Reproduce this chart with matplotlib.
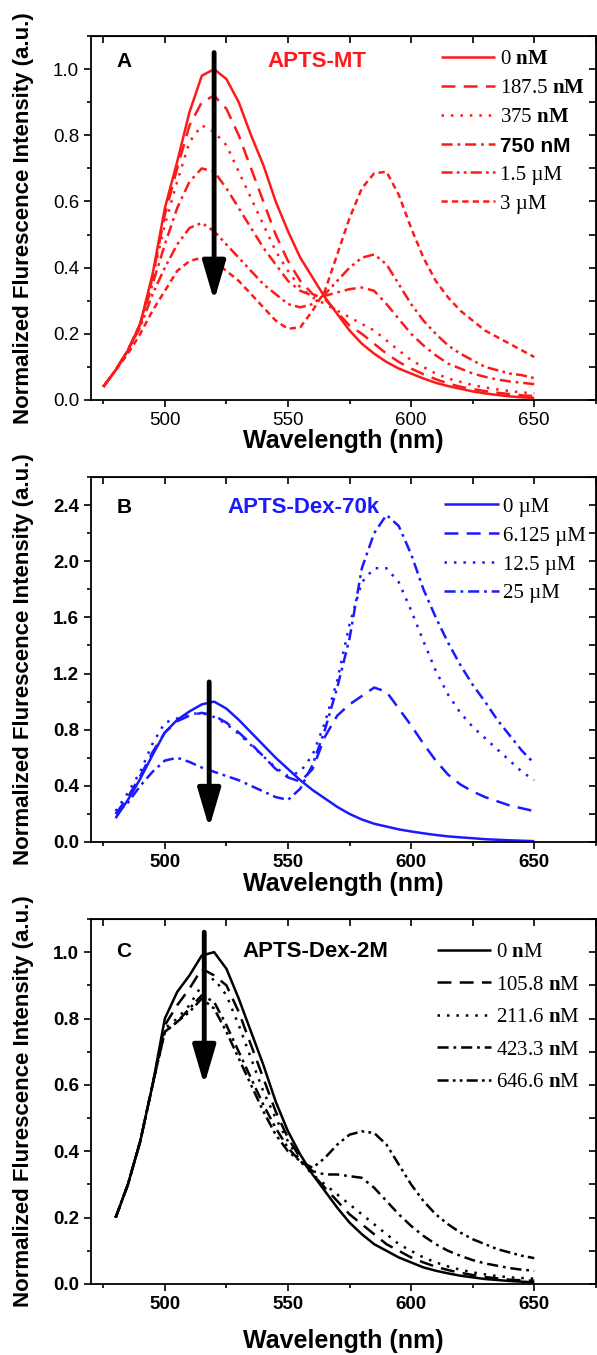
import matplotlib.pyplot as plt
from matplotlib.ticker import MultipleLocator

plt.rcParams['font.family'] = ['Liberation Sans', 'DejaVu Sans']
plt.rcParams['mathtext.fontset'] = 'custom'
plt.rcParams['mathtext.rm'] = 'Liberation Serif'
plt.rcParams['mathtext.bf'] = 'Liberation Serif:bold'
plt.rcParams['lines.scale_dashes'] = False

# ---- data ----
wl_a = [475, 480, 485, 490, 495, 500, 505, 510, 515, 520, 525, 530, 535, 540, 545, 550,
        555, 560, 565, 570, 575, 580, 585, 590, 595, 600, 605, 610, 615, 620, 625, 630,
        635, 640, 645, 650]
wl_bc = wl_a[1:]

mt_labels = ['0 $\\mathbf{nM}$', '187.5 $\\mathbf{nM}$', '375 $\\mathbf{nM}$', '750 nM',
             '1.5 \u00b5M', '3 \u00b5M']
mt_0 = [0.04, 0.09, 0.15, 0.23, 0.38, 0.58, 0.72, 0.87, 0.98, 1.0, 0.97, 0.9, 0.8, 0.71, 0.6, 0.51,
        0.43, 0.37, 0.31, 0.26, 0.21, 0.17, 0.14, 0.115, 0.095, 0.08, 0.065, 0.052, 0.042, 0.034,
        0.026, 0.02, 0.015, 0.011, 0.008, 0.006]
mt_187 = [0.04, 0.09, 0.15, 0.23, 0.37, 0.56, 0.7, 0.83, 0.9, 0.92, 0.88, 0.8, 0.7, 0.6, 0.5, 0.42,
          0.36, 0.32, 0.305, 0.265, 0.225, 0.2, 0.17, 0.14, 0.115, 0.095, 0.078, 0.063, 0.05, 0.04,
          0.033, 0.027, 0.022, 0.018, 0.014, 0.012]
mt_375 = [0.04, 0.09, 0.15, 0.23, 0.37, 0.53, 0.66, 0.78, 0.83, 0.81, 0.77, 0.69, 0.61, 0.53, 0.45,
          0.39, 0.34, 0.31, 0.29, 0.27, 0.25, 0.23, 0.21, 0.18, 0.15, 0.12, 0.1, 0.08, 0.065, 0.055,
          0.045, 0.038, 0.032, 0.027, 0.023, 0.02]
mt_750 = [0.04, 0.09, 0.15, 0.23, 0.35, 0.47, 0.58, 0.66, 0.7, 0.69, 0.64, 0.58, 0.52, 0.46, 0.41,
          0.36, 0.33, 0.315, 0.315, 0.325, 0.335, 0.34, 0.33, 0.29, 0.245, 0.2, 0.165, 0.135, 0.11,
          0.095, 0.08, 0.07, 0.062, 0.056, 0.052, 0.048]
mt_1500 = [0.04, 0.09, 0.15, 0.22, 0.32, 0.4, 0.47, 0.52, 0.535, 0.51, 0.47, 0.43, 0.39, 0.35, 0.32,
           0.29, 0.28, 0.29, 0.32, 0.36, 0.4, 0.43, 0.44, 0.41, 0.35, 0.29, 0.24, 0.2, 0.165, 0.14,
           0.12, 0.1, 0.09, 0.08, 0.075, 0.066]
mt_3000 = [0.04, 0.09, 0.14, 0.2, 0.27, 0.33, 0.39, 0.42, 0.43, 0.42, 0.39, 0.36, 0.32, 0.28, 0.24,
           0.215, 0.22, 0.27, 0.33, 0.44, 0.55, 0.64, 0.685, 0.69, 0.62, 0.52, 0.43, 0.36, 0.31, 0.27,
           0.24, 0.21, 0.19, 0.17, 0.15, 0.13]

d70_labels = ['0 \u00b5M', '6.125 \u00b5M', '12.5 \u00b5M', '25 \u00b5M']
d70_0 = [0.17, 0.3, 0.45, 0.62, 0.78, 0.87, 0.93, 0.98, 1.0, 0.95, 0.87, 0.78, 0.69, 0.6, 0.52,
         0.44, 0.37, 0.31, 0.25, 0.2, 0.16, 0.13, 0.11, 0.09, 0.075, 0.062, 0.05, 0.04, 0.033,
         0.027, 0.02, 0.016, 0.012, 0.009, 0.006]
d70_6 = [0.2, 0.32, 0.47, 0.64, 0.78, 0.86, 0.9, 0.92, 0.9, 0.85, 0.78, 0.7, 0.61, 0.52, 0.46,
         0.43, 0.52, 0.75, 0.9, 0.98, 1.04, 1.1, 1.07, 0.95, 0.83, 0.7, 0.58, 0.48, 0.41, 0.36,
         0.32, 0.29, 0.26, 0.24, 0.22]
d70_12 = [0.22, 0.35, 0.5, 0.7, 0.85, 0.88, 0.91, 0.92, 0.89, 0.84, 0.77, 0.69, 0.61, 0.53, 0.47,
          0.5, 0.62, 0.85, 1.15, 1.55, 1.85, 1.95, 1.95, 1.85, 1.65, 1.43, 1.22, 1.05, 0.92, 0.82,
          0.74, 0.66, 0.58, 0.5, 0.44]
d70_25 = [0.2, 0.28, 0.4, 0.5, 0.58, 0.6, 0.57, 0.53, 0.5, 0.47, 0.44, 0.4, 0.36, 0.32, 0.3,
          0.38, 0.55, 0.8, 1.1, 1.45, 1.95, 2.2, 2.33, 2.25, 2.05, 1.8, 1.6, 1.42, 1.26, 1.12,
          1.0, 0.87, 0.76, 0.65, 0.56]

d2m_labels = ['0 $\\mathbf{n}$M', '105.8 $\\mathbf{n}$M', '211.6 $\\mathbf{n}$M',
              '423.3 $\\mathbf{n}$M', '646.6 $\\mathbf{n}$M']
d2m_0 = [0.2, 0.3, 0.43, 0.6, 0.8, 0.88, 0.93, 0.99, 1.0, 0.95, 0.86, 0.76, 0.66, 0.55, 0.46,
         0.39, 0.33, 0.28, 0.23, 0.185, 0.15, 0.12, 0.1, 0.08, 0.065, 0.05, 0.04, 0.032, 0.025,
         0.02, 0.015, 0.012, 0.009, 0.007, 0.005]
d2m_105 = [0.2, 0.3, 0.43, 0.6, 0.78, 0.84, 0.89, 0.95, 0.93, 0.9, 0.82, 0.72, 0.62, 0.52, 0.44,
           0.38, 0.33, 0.29, 0.25, 0.21, 0.18, 0.15, 0.12, 0.1, 0.08, 0.065, 0.052, 0.042, 0.034,
           0.027, 0.021, 0.017, 0.013, 0.011, 0.01]
d2m_211 = [0.2, 0.3, 0.43, 0.6, 0.77, 0.8, 0.84, 0.9, 0.92, 0.87, 0.78, 0.68, 0.58, 0.5, 0.43,
           0.37, 0.33, 0.3, 0.27, 0.24, 0.21, 0.18, 0.15, 0.12, 0.1, 0.08, 0.065, 0.053, 0.043,
           0.035, 0.029, 0.024, 0.02, 0.018, 0.016]
d2m_423 = [0.2, 0.3, 0.43, 0.6, 0.76, 0.79, 0.83, 0.87, 0.85, 0.78, 0.7, 0.62, 0.54, 0.47, 0.41,
           0.37, 0.34, 0.33, 0.33, 0.325, 0.32, 0.29, 0.25, 0.21, 0.175, 0.145, 0.12, 0.1, 0.085,
           0.072, 0.062, 0.055, 0.048, 0.043, 0.04]
d2m_646 = [0.2, 0.3, 0.43, 0.6, 0.76, 0.79, 0.82, 0.86, 0.83, 0.76, 0.68, 0.6, 0.52, 0.45, 0.4,
           0.37, 0.35, 0.38, 0.42, 0.45, 0.46, 0.455, 0.42, 0.36, 0.3, 0.25, 0.21, 0.18, 0.155,
           0.135, 0.12, 0.105, 0.095, 0.085, 0.078]

# line styles (points)
SOLID = (0, ())
LONG = (0, (10, 6))
DOT = (0, (1.8, 5))
DASHDOT = (0, (8, 3.5, 2, 3.5))
DASHDOTDOT = (0, (8, 3, 2, 3, 2, 3))
SHORT = (0, (4.5, 3))

ylabel = 'Normalized Flurescence Intensity (a.u.)'
legend_font = {'family': 'Liberation Serif', 'size': 15}


def style_axes(ax, ymax, ymajor, yminor, bold_ticks, labelpad):
    ax.set_xlim(470, 675)
    ax.set_ylim(0, ymax)
    ax.xaxis.set_major_locator(MultipleLocator(50))
    ax.xaxis.set_minor_locator(MultipleLocator(25))
    ax.yaxis.set_major_locator(MultipleLocator(ymajor))
    ax.yaxis.set_minor_locator(MultipleLocator(yminor))
    ax.tick_params(which='both', direction='out', width=1.2, labelsize=13.5)
    ax.tick_params(which='major', length=5)
    ax.tick_params(which='minor', length=3)
    for lab in ax.get_xticklabels() + ax.get_yticklabels():
        lab.set_fontweight('bold' if bold_ticks else 'normal')
    for s in ax.spines.values():
        s.set_linewidth(1.3)
    top = ax.secondary_xaxis('top')
    top.xaxis.set_major_locator(MultipleLocator(25))
    top.tick_params(direction='in', length=5, width=1.2, labeltop=False)
    right = ax.secondary_yaxis('right')
    right.yaxis.set_major_locator(MultipleLocator(yminor))
    right.tick_params(direction='in', length=5, width=1.2, labelright=False)
    ax.set_xlabel('Wavelength (nm)', fontsize=18, fontweight='bold', labelpad=labelpad)
    ax.set_ylabel(ylabel, fontsize=16, fontweight='bold')
    ax.yaxis.set_label_coords(-0.113, 0.5)


def add_arrow(ax, x, y0, y1):
    ax.annotate('', xy=(x, y1), xytext=(x, y0),
                arrowprops=dict(arrowstyle='-|>,head_width=0.5,head_length=1.7',
                                lw=3.5, color='black', mutation_scale=14,
                                shrinkA=0, shrinkB=0))


fig = plt.figure(figsize=(5.97, 13.55), dpi=100)
W = 0.998 - 0.1524
axA = fig.add_axes([0.1524, 0.7048, W, 0.2686])
axB = fig.add_axes([0.1524, 0.3786, W, 0.2694])
axC = fig.add_axes([0.1524, 0.0524, W, 0.2694])

# ---- panel A ----
red = '#ff1a1a'
series_a = [mt_0, mt_187, mt_375, mt_750, mt_1500, mt_3000]
styles_a = [SOLID, LONG, DOT, DASHDOT, DASHDOTDOT, SHORT]
for ys, ls, lab in zip(series_a, styles_a, mt_labels):
    axA.plot(wl_a, ys, color=red, lw=1.8, linestyle=ls, label=lab)
style_axes(axA, 1.1, 0.2, 0.1, False, 0)
add_arrow(axA, 520, 1.05, 0.3)
axA.text(0.05, 0.93, 'A', transform=axA.transAxes, fontsize=15, fontweight='bold', va='center')
axA.text(0.35, 0.93, 'APTS-MT', transform=axA.transAxes, fontsize=16, fontweight='bold',
         color=red, va='center')
legA = axA.legend(loc='upper left', bbox_to_anchor=(0.694, 0.962), frameon=False,
                  prop=legend_font, handlelength=2.6,
                  handletextpad=0.2, labelspacing=0.45, borderpad=0, borderaxespad=0)
legA.get_texts()[3].set_fontfamily('Liberation Sans')
legA.get_texts()[3].set_fontweight('bold')

# ---- panel B ----
blue = '#1a1aff'
series_b = [d70_0, d70_6, d70_12, d70_25]
styles_b = [SOLID, LONG, DOT, DASHDOT]
for ys, ls, lab in zip(series_b, styles_b, d70_labels):
    axB.plot(wl_bc, ys, color=blue, lw=1.8, linestyle=ls, label=lab)
style_axes(axB, 2.6, 0.4, 0.2, True, 1)
add_arrow(axB, 518, 1.14, 0.1)
axB.text(0.05, 0.915, 'B', transform=axB.transAxes, fontsize=15, fontweight='bold', va='center')
axB.text(0.27, 0.915, 'APTS-Dex-70k', transform=axB.transAxes, fontsize=16, fontweight='bold',
         color=blue, va='center')
axB.legend(loc='upper left', bbox_to_anchor=(0.70, 0.945), frameon=False,
           prop=legend_font, handlelength=2.6,
           handletextpad=0.2, labelspacing=0.45, borderpad=0, borderaxespad=0)

# ---- panel C ----
series_c = [d2m_0, d2m_105, d2m_211, d2m_423, d2m_646]
styles_c = [SOLID, LONG, DOT, DASHDOT, DASHDOTDOT]
for ys, ls, lab in zip(series_c, styles_c, d2m_labels):
    axC.plot(wl_bc, ys, color='black', lw=1.8, linestyle=ls, label=lab)
style_axes(axC, 1.1, 0.2, 0.1, True, 12)
add_arrow(axC, 516, 1.06, 0.6)
axC.text(0.05, 0.91, 'C', transform=axC.transAxes, fontsize=15, fontweight='bold', va='center')
axC.text(0.30, 0.91, 'APTS-Dex-2M', transform=axC.transAxes, fontsize=16, fontweight='bold',
         color='black', va='center')
axC.legend(loc='upper left', bbox_to_anchor=(0.686, 0.935), frameon=False,
           prop=legend_font, handlelength=2.6,
           handletextpad=0.2, labelspacing=0.62, borderpad=0, borderaxespad=0)

fig.savefig('out.png', dpi=100)
